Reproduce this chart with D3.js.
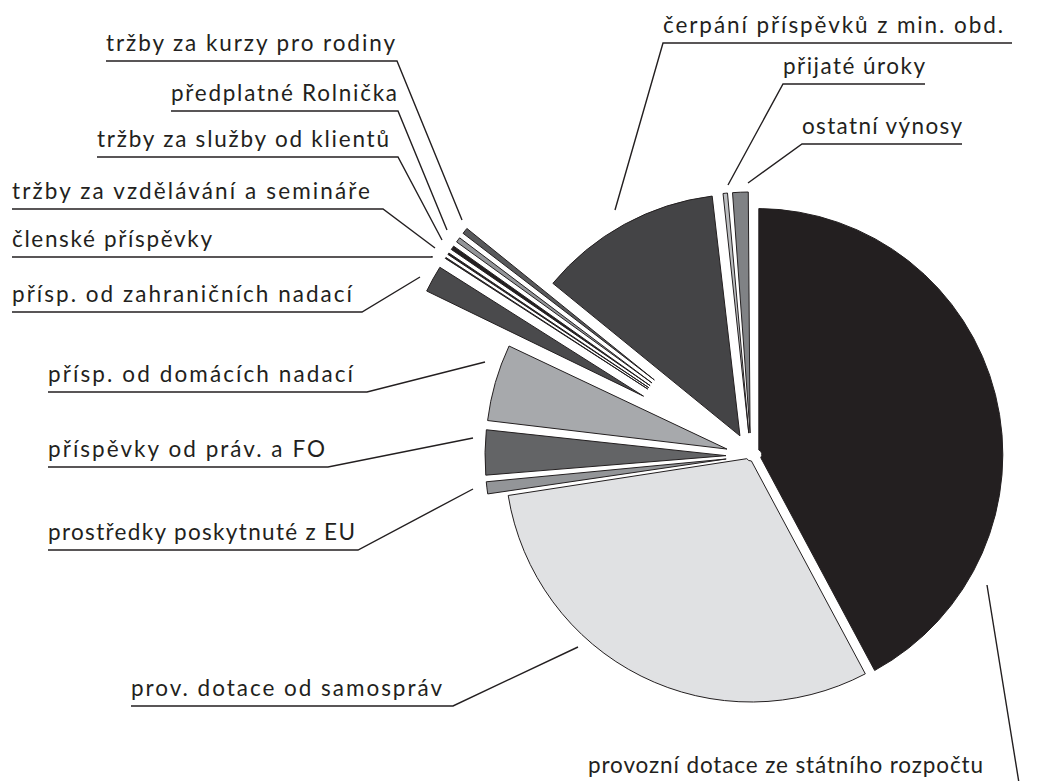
<!DOCTYPE html>
<html>
<head>
<meta charset="utf-8">
<script src="https://cdn.jsdelivr.net/npm/d3@7"></script>
<style>
    body { margin: 0; background: #fff; }
    svg text { font-family: "Lato", "Open Sans", sans-serif; font-size: 22.5px; fill: #231f20; }
</style>
</head>
<body>
<svg id="Pie" width="1042" height="781"></svg>
<script>
// shares of the income, percent
const categories = [
    "provozní dotace ze státního rozpočtu",
    "prov. dotace od samospráv",
    "prostředky poskytnuté z EU",
    "příspěvky od práv. a FO",
    "přísp. od domácích nadací",
    "přísp. od zahraničních nadací",
    "členské příspěvky",
    "tržby za vzdělávání a semináře",
    "tržby za služby od klientů",
    "předplatné Rolnička",
    "tržby za kurzy pro rodiny",
    "čerpání příspěvků z min. obd.",
    "přijaté úroky",
    "ostatní výnosy"
]
const shares = [42.2, 30.4, 1.05, 3.2, 5.3, 1.95, 0.2, 0.24, 0.39, 0.46, 0.53, 12.3, 0.55, 1.28]

// styling per slice
const sliceColors = ["#231f20", "#e0e1e3", "#939598", "#636466", "#a7a9ac", "#4a4a4c",
    "#231f20", "#231f20", "#231f20", "#939598", "#58595b", "#444446", "#bcbec0", "#808285"]
const explodeBy = [6, 0, 20, 20, 20, 118, 118, 118, 118, 118, 118, 18, 18, 18]
const halfGap = [2, 2, 2, 2, 2, 1.5, 1, 1, 1, 1, 1, 2, 2, 2]

// label layout: text start / end, underline y, underline end, leader attach side and end
const labelLayout = [
    { x: 588, tx2: 983, uy: 783, x2: 1019, attach: "right", end: [987, 585] },
    { x: 131, tx2: 442, uy: 706, x2: 453, attach: "right", end: [578, 647] },
    { x: 48, tx2: 355, uy: 550, x2: 358, attach: "right", end: [473, 489] },
    { x: 48, tx2: 325, uy: 467, x2: 328, attach: "right", end: [473, 438] },
    { x: 48, tx2: 353, uy: 392, x2: 367, attach: "right", end: [485, 362] },
    { x: 12, tx2: 352, uy: 312, x2: 362, attach: "right", end: [420, 277] },
    { x: 12, tx2: 212, uy: 257, x2: 432, attach: "right", end: [432, 256] },
    { x: 12, tx2: 370, uy: 209, x2: 383, attach: "right", end: [435, 248] },
    { x: 97, tx2: 389, uy: 157, x2: 398, attach: "right", end: [442, 240] },
    { x: 171, tx2: 397, uy: 111, x2: 398, attach: "right", end: [447, 230] },
    { x: 106, tx2: 395, uy: 61, x2: 397, attach: "right", end: [462, 220] },
    { x: 663, tx2: 1003, uy: 43, x2: 1012, attach: "left", end: [615, 210] },
    { x: 783, tx2: 925, uy: 84, x2: 925, attach: "left", end: [728, 185] },
    { x: 802, tx2: 962, uy: 144, x2: 962, attach: "left", end: [748, 183] }
]

const config = {
    cx: 751,
    cy: 456,
    radius: 246,
    innerRadius: 5
}

function drawPie() {
    const { cx, cy, radius, innerRadius } = config
    const svg = d3.select("#Pie")

    const data = categories.map((c, i) => ({ name: c, value: shares[i], i: i }))

    const pie = d3.pie()
        .sort(null)
        .value(d => d.value)

    const slices = pie(data).map(s => {
        s.padAngle = 2 * Math.asin(halfGap[s.data.i] / radius)
        return s
    })

    const arc = d3.arc()
        .innerRadius(innerRadius)
        .outerRadius(radius)
        .padRadius(radius)

    const body = svg.append("g")
        .attr("transform", `translate(${cx},${cy})`)

    body.selectAll("path")
        .data(slices)
        .enter()
        .append("path")
        .attr("d", arc)
        .attr("transform", d => {
            const a = (d.startAngle + d.endAngle) / 2
            const e = explodeBy[d.data.i]
            return `translate(${e * Math.sin(a)},${-e * Math.cos(a)})`
        })
        .attr("fill", d => sliceColors[d.data.i])
        .attr("stroke", "#231f20")
        .attr("stroke-width", 1)
}

function drawLabels() {
    const svg = d3.select("#Pie")
    const labels = svg.append("g")

    const items = categories.map((c, i) => Object.assign({ name: c }, labelLayout[i]))

    labels.selectAll("polyline")
        .data(items)
        .enter()
        .append("polyline")
        .attr("points", d => {
            const ax = d.attach === "left" ? d.x : d.x2
            const other = d.attach === "left" ? d.x2 : d.x
            return `${other},${d.uy} ${ax},${d.uy} ${d.end[0]},${d.end[1]}`
        })
        .attr("fill", "none")
        .attr("stroke", "#231f20")
        .attr("stroke-width", 1.4)

    labels.selectAll("text")
        .data(items)
        .enter()
        .append("text")
        .attr("x", d => d.x)
        .attr("y", d => d.uy - 10)
        .attr("textLength", d => d.tx2 - d.x)
        .attr("lengthAdjust", "spacing")
        .text(d => d.name)
}

drawPie()
drawLabels()
</script>
</body>
</html>
